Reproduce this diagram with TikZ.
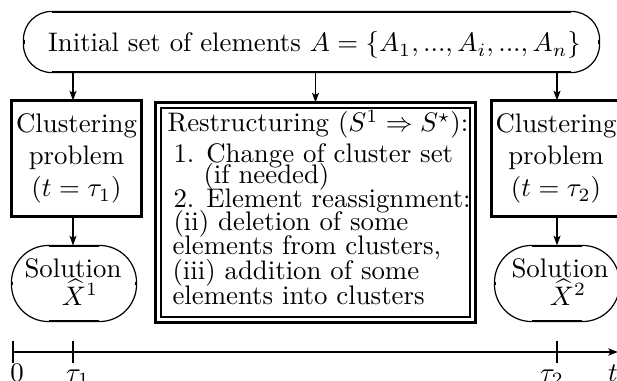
\documentclass[tikz,border=0pt]{standalone}
\usetikzlibrary{arrows.meta,fit}
\begin{document}
\begin{tikzpicture}[x=0.373pt,y=-0.373pt,
  thk/.style={line width=0.8pt},
  thn/.style={line width=0.45pt},
  arr/.style={-{Stealth[length=3.6pt,width=2.6pt,inset=0.8pt]}},
  txt/.style={anchor=base,inner sep=0pt},
  ltxt/.style={anchor=base west,inner sep=0pt},
  box/.style={inner sep=0pt}]
\useasboundingbox (0,0) rectangle (617,381);
\clip (0,0) rectangle (617,381);
% time axis coordinates
\coordinate (t0) at (13,352);
\coordinate (t1) at (73,352);
\coordinate (t2) at (557,352);
\coordinate (tend) at (618,352);
% top oval
\node[box,fit={(24,12)(599,72)}] (top) {};
\draw[thn,rounded corners=10.44pt] (top.north west) rectangle (top.south east);
\draw[thk] (52,12) -- (571,12) (52,72) -- (571,72) (24,40) -- (24,44) (599,40) -- (599,44);
\node[txt] (toptext) at (314.5,52) {Initial set of elements $A=\{A_1,...,A_i,...,A_n\}$};
% left clustering box
\node[box,fit={(12,101)(141,216)}] (left) {};
\draw[thk] (left.north west) rectangle (left.south east);
\node[txt] (l1) at (76.5,133) {Clustering};
\node[txt] (l2) at (76.5,165) {problem};
\node[txt] (l3) at (76.5,197) {$(t=\tau_1)$};
% right clustering box
\node[box,fit={(492,101)(621,216)}] (right) {};
\draw[thk] (right.north west) rectangle (right.south east);
\node[txt] (r1) at (556,133) {Clustering};
\node[txt] (r2) at (556,165) {problem};
\node[txt] (r3) at (556,197) {$(t=\tau_2)$};
% middle double box
\node[box,fit={(156,103)(475,322)}] (mid) {};
\draw[thk] (mid.north west) rectangle (mid.south east);
\draw[line width=0.7pt] (161,108) rectangle (470,317);
\node[ltxt] (m1) at (167,132) {Restructuring ($S^1\Rightarrow S^{\star}$):};
\node[ltxt] (m2) at (173,163) {1. Change of cluster set};
\node[ltxt] (m3) at (203,184) {(if needed)};
\node[ltxt] (m4) at (173,208) {2. Element reassignment:};
\node[ltxt] (m5) at (173,231) {(ii) deletion of some};
\node[ltxt] (m6) at (172,255) {elements from clusters,};
\node[ltxt] (m7) at (172,279) {(iii) addition of some};
\node[ltxt] (m8) at (172,304) {elements into clusters};
% left solution oval
\node[box,fit={(12,246)(136,321)}] (sol1) {};
\draw[thn,rounded corners=13.8pt] (sol1.north west) rectangle (sol1.south east);
\draw[thk] (49,246) -- (99,246) (49,321) -- (99,321) (12,282) -- (12,285) (136,282) -- (136,285);
\node[txt] (s1a) at (73,277) {Solution};
\node[txt] (s1b) at (80,305) {$\widehat{X}^1$};
% right solution oval
\node[box,fit={(495,246)(619,321)}] (sol2) {};
\draw[thn,rounded corners=13.8pt] (sol2.north west) rectangle (sol2.south east);
\draw[thk] (532,246) -- (582,246) (532,321) -- (582,321) (495,282) -- (495,285);
\node[txt] (s2a) at (560,277) {Solution};
\node[txt] (s2b) at (568,305) {$\widehat{X}^2$};
% arrows
\draw[thn,arr] (top.south -| t1) -- (left.north -| t1);
\draw[thn,arr] (top.south -| mid.north) -- (mid.north);
\draw[thk,arr] (top.south -| t2) -- (right.north -| t2);
\draw[thn,arr] (left.south -| t1) -- (sol1.north -| t1);
\draw[thk,arr] (right.south -| t2) -- (sol2.north -| t2);
% time axis
\draw[thk,arr] (t0) -- (tend);
\draw[thk] ([yshift=4.1pt]t0) -- ([yshift=-4.1pt]t0);
\draw[thk] ([yshift=4.1pt]t1) -- ([yshift=-4.1pt]t1);
\draw[line width=1.1pt] ([yshift=4.1pt]t2) -- ([yshift=-4.1pt]t2);
\node[txt] (lab0) at (17,381) {$0$};
\node[txt] (lab1) at (78,381) {$\tau_1$};
\node[txt] (lab2) at (552,381) {$\tau_2$};
\node[txt] (labt) at (613,381) {$t$};
\end{tikzpicture}
\end{document}
